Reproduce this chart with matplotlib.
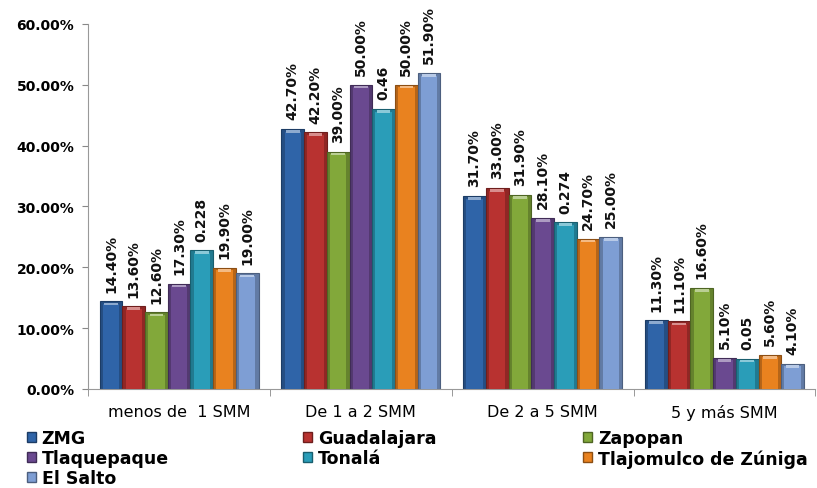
import matplotlib
matplotlib.use("Agg")
import matplotlib.pyplot as plt
import numpy as np
from matplotlib.ticker import FuncFormatter, FixedLocator
from matplotlib.patches import Patch
import matplotlib.colors as mcolors

categories = ["menos de  1 SMM", "De 1 a 2 SMM", "De 2 a 5 SMM", "5 y más SMM"]
series = ["ZMG", "Guadalajara", "Zapopan", "Tlaquepaque", "Tonalá",
          "Tlajomulco de Zúniga", "El Salto"]
zmg = [0.144, 0.427, 0.317, 0.113]
guadalajara = [0.136, 0.422, 0.330, 0.111]
zapopan = [0.126, 0.390, 0.319, 0.166]
tlaquepaque = [0.173, 0.500, 0.281, 0.051]
tonala = [0.228, 0.46, 0.274, 0.05]
tlajomulco = [0.199, 0.500, 0.247, 0.056]
el_salto = [0.190, 0.519, 0.250, 0.041]
values = [zmg, guadalajara, zapopan, tlaquepaque, tonala, tlajomulco, el_salto]
labels = [
    ["14.40%", "42.70%", "31.70%", "11.30%"],
    ["13.60%", "42.20%", "33.00%", "11.10%"],
    ["12.60%", "39.00%", "31.90%", "16.60%"],
    ["17.30%", "50.00%", "28.10%", "5.10%"],
    ["0.228", "0.46", "0.274", "0.05"],
    ["19.90%", "50.00%", "24.70%", "5.60%"],
    ["19.00%", "51.90%", "25.00%", "4.10%"],
]
colors = ["#2F64A8", "#B83230", "#82A83A", "#6A4990", "#2A9DB8", "#E9821F", "#7E9ED4"]

def shade(c, f):
    r, g, b = mcolors.to_rgb(c)
    return (r * f, g * f, b * f)

def tint(c, f):
    r, g, b = mcolors.to_rgb(c)
    return (r + (1 - r) * f, g + (1 - g) * f, b + (1 - b) * f)

fig = plt.figure(figsize=(8.17, 4.89), dpi=100)
ax = fig.add_axes([0.108, 0.2025, 0.89, 0.7465])

x = np.arange(len(categories))
n = len(series)
w = 0.125
for i, (vals, col) in enumerate(zip(values, colors)):
    pos = x + (i - (n - 1) / 2) * w
    v = np.array(vals)
    ax.bar(pos, v, width=w, color=shade(col, 0.78), edgecolor=shade(col, 0.6),
           linewidth=0.8, zorder=2)
    ax.bar(pos, v - 0.004, width=w * 0.72, color=col, linewidth=0, zorder=3)
    ax.bar(pos, 0.004, bottom=v - 0.006, width=w * 0.6, color=tint(col, 0.45),
           linewidth=0, zorder=4)
    for p, val, lab in zip(pos, v, labels[i]):
        ax.annotate(lab, (p, val), xytext=(0, 7), textcoords="offset points",
                    rotation=90, ha="center", va="bottom", fontsize=10,
                    fontweight="bold", family="DejaVu Sans", color="#111111")

ax.set_ylim(0, 0.6)
ax.set_xlim(-0.5, len(categories) - 0.5)
ax.set_yticks(np.arange(0, 0.61, 0.1))
ax.yaxis.set_major_formatter(FuncFormatter(lambda v, p: f"{v*100:.2f}%"))
for t in ax.get_yticklabels():
    t.set_fontweight("bold")
    t.set_fontsize(10)
    t.set_family("DejaVu Sans")
ax.set_xticks(x)
ax.set_xticklabels(categories, fontsize=11.5, family="DejaVu Sans")
ax.tick_params(axis="x", which="major", length=0, pad=11)
ax.xaxis.set_minor_locator(FixedLocator(np.arange(-0.5, len(categories), 1.0)))
ax.tick_params(axis="x", which="minor", length=5, color="#888888")
ax.tick_params(axis="y", length=4, color="#888888", pad=6)
for s in ["top", "right"]:
    ax.spines[s].set_visible(False)
ax.spines["left"].set_color("#999999")
ax.spines["bottom"].set_color("#999999")

handles = [Patch(facecolor=c, edgecolor=shade(c, 0.6), linewidth=1) for c in colors]
cols = [[0, 3, 6], [1, 4], [2, 5]]
xs = [0.033, 0.371, 0.714]
for cidx, xx in zip(cols, xs):
    fig.legend([handles[k] for k in cidx], [series[k] for k in cidx],
               loc="upper left", bbox_to_anchor=(xx, 0.121), frameon=False,
               prop={"family": "DejaVu Sans", "weight": "bold", "size": 12.5},
               handlelength=0.5, handleheight=0.5, handletextpad=0.35,
               labelspacing=0.13, borderaxespad=0, borderpad=0)

fig.savefig("out.png", dpi=100)
